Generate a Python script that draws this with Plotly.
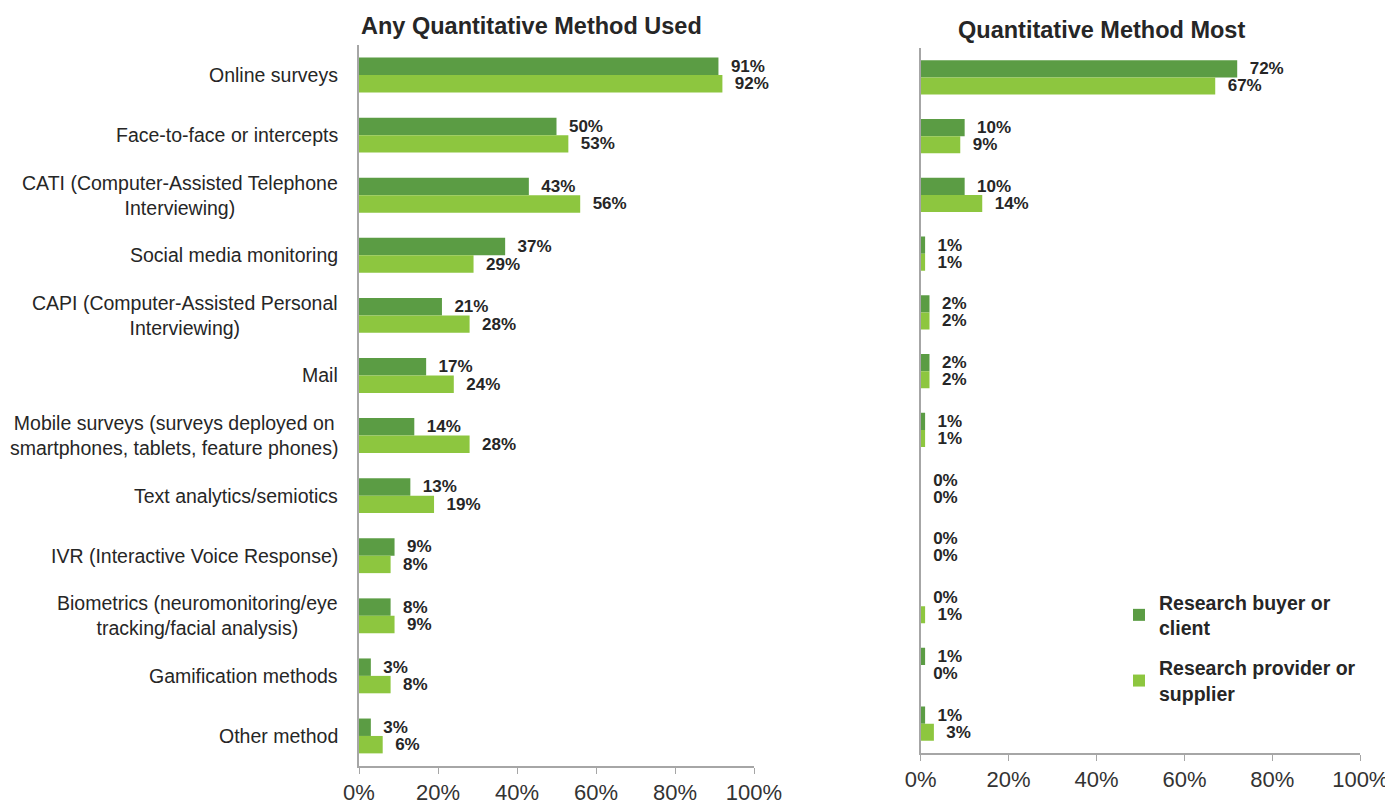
import plotly.graph_objects as go

categories = [
    "Online surveys",
    "Face-to-face or intercepts",
    "CATI (Computer-Assisted Telephone<br>Interviewing)",
    "Social media monitoring",
    "CAPI (Computer-Assisted Personal<br>Interviewing)",
    "Mail",
    "Mobile surveys (surveys deployed on<br>smartphones, tablets, feature phones)",
    "Text analytics/semiotics",
    "IVR (Interactive Voice Response)",
    "Biometrics (neuromonitoring/eye<br>tracking/facial analysis)",
    "Gamification methods",
    "Other method",
]
any_buyer = [91, 50, 43, 37, 21, 17, 14, 13, 9, 8, 3, 3]
any_provider = [92, 53, 56, 29, 28, 24, 28, 19, 8, 9, 8, 6]
most_buyer = [72, 10, 10, 1, 2, 2, 1, 0, 0, 0, 1, 1]
most_provider = [67, 9, 14, 1, 2, 2, 1, 0, 0, 1, 0, 3]

series_names = ["<b>Research buyer or<br>client</b>", "<b>Research provider or<br>supplier</b>"]
colors = ["#5b9c44", "#8dc63f"]
tick_vals = [0, 20, 40, 60, 80, 100]
tick_text = ["0%", "20%", "40%", "60%", "80%", "100%"]

FONT = "Liberation Sans, Arial, sans-serif"
TXT = "#262626"
W, H = 1393, 803
OFF = 8  # page body margin offset in the browser


def px(x):
    return (x - OFF) / W


def py(y):
    return 1 - (y - OFF) / H


fig = go.Figure()


def add_bars(vals, name, color, xa, ya, show):
    fig.add_trace(go.Bar(
        y=categories, x=vals, orientation="h", name=name,
        marker=dict(color=color, line=dict(width=0)),
        text=[f"  <b>{v}%</b>" for v in vals], texttemplate="%{text}",
        textposition="outside", constraintext="none",
        textfont=dict(family=FONT, size=17, color=TXT),
        cliponaxis=False, xaxis=xa, yaxis=ya, showlegend=show,
        legendgroup=name,
    ))


add_bars(any_buyer, series_names[0], colors[0], "x", "y", True)
add_bars(any_provider, series_names[1], colors[1], "x", "y", True)
add_bars(most_buyer, series_names[0], colors[0], "x2", "y2", False)
add_bars(most_provider, series_names[1], colors[1], "x2", "y2", False)

axis_common = dict(
    range=[0, 100], tickvals=tick_vals, ticktext=tick_text,
    showgrid=False, zeroline=False, showline=True, linecolor="#a6a6a6",
    linewidth=1.5, ticks="outside", ticklen=6, tickcolor="#a6a6a6",
    tickfont=dict(family=FONT, size=22, color="#333333"), automargin=False,
)
yaxis_common = dict(autorange="reversed", showticklabels=False, ticks="",
                    showgrid=False, zeroline=False, showline=True,
                    linecolor="#a6a6a6", linewidth=1.5, automargin=False)

fig.update_layout(
    width=W, height=H, autosize=False,
    margin=dict(l=0, r=0, t=0, b=0, pad=0, autoexpand=False),
    paper_bgcolor="white", plot_bgcolor="white",
    barmode="group", bargap=0.42, bargroupgap=0,
    xaxis=dict(domain=[px(359), px(754)], anchor="y", **axis_common),
    yaxis=dict(domain=[py(766), py(45)], anchor="x", **yaxis_common),
    xaxis2=dict(domain=[px(920.7), px(1360.3)], anchor="y2", **axis_common),
    yaxis2=dict(domain=[py(753), py(48)], anchor="x2", **yaxis_common),
    legend=dict(x=px(1119), y=py(583), xanchor="left", yanchor="top",
                traceorder="grouped", tracegroupgap=12,
                font=dict(family=FONT, size=19.5, color=TXT),
                itemwidth=30, bgcolor="rgba(0,0,0,0)"),
    showlegend=True,
)

for c in categories:
    fig.add_annotation(
        x=0, xref="x domain", y=c, yref="y", text=c, showarrow=False,
        xanchor="right", xshift=-19, align="center",
        font=dict(family=FONT, size=19.5, color=TXT),
    )

fig.add_annotation(x=px(359), xref="paper", y=py(26), yref="paper",
                   text="<b>Any Quantitative Method Used</b>", showarrow=False,
                   xanchor="left", yanchor="middle",
                   font=dict(family=FONT, size=23.5, color=TXT))
fig.add_annotation(x=px(1101), xref="paper", y=py(30), yref="paper",
                   text="<b>Quantitative Method Most</b>", showarrow=False,
                   xanchor="center", yanchor="middle",
                   font=dict(family=FONT, size=23.5, color=TXT))

fig.write_html("out.html")
